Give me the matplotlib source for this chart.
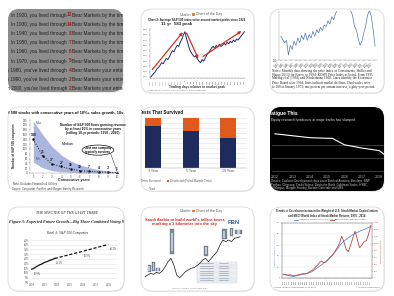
import matplotlib
matplotlib.use("Agg")
import matplotlib.pyplot as plt
from matplotlib.patches import FancyBboxPatch, Rectangle, Ellipse
from matplotlib.transforms import Bbox, TransformedBbox

plt.rcParams['font.family'] = ['Liberation Sans', 'DejaVu Sans']
SERIF = ['Liberation Serif', 'DejaVu Serif']

# ---- panel 1: bear markets text card
years1 = [1920, 1930, 1940, 1950, 1960, 1970, 1980, 1990, 2000]
bear_counts = [12, 14, 8, 7, 6, 5, 4, 2, 2]

# ---- panel 2: S&P 500 around market peak
days2 = list(range(-2750, 4751, 125))
index2 = [1.00, 1.03, 1.07, 1.10, 1.15, 1.18, 1.22, 1.27, 1.25, 1.30, 1.35, 1.33,
          1.38, 1.45, 1.50, 1.48, 1.55, 1.60, 1.58, 1.66, 1.72, 1.80, 1.86,
          1.72, 1.62, 1.52, 1.46, 1.42, 1.38, 1.40, 1.34, 1.30,
          1.27, 1.33, 1.30, 1.36, 1.42, 1.46, 1.50, 1.55, 1.58, 1.54, 1.60, 1.57,
          1.62, 1.58, 1.60, 1.64, 1.61, 1.66, 1.63, 1.68, 1.65, 1.70, 1.67, 1.72,
          1.70, 1.74, 1.78, 1.82, 1.86]
arrows2 = [((-2750, 1.10), (-40, 1.89)), ((40, 1.88), (1150, 1.30)), ((1250, 1.36), (4700, 1.90))]

# ---- panel 3: price index line
index3 = [129, 125, 121, 124, 106, 118, 113, 123, 118, 127, 121, 130, 125, 133, 124, 131,
          127, 135, 129, 137, 133, 140, 136, 143, 141, 148, 144, 153, 149, 157, 161, 166,
          163, 169, 165, 167, 163, 160, 155, 142, 137, 127, 118, 123, 133, 142, 155, 161,
          153, 136, 117]
labels3 = ['1994', '1995', '1996', '1997', '1998', '1999', '2000', '2001', '2002', '2003',
           '2004', '2005', '2006', '2007', '2008', '2009', '2010', '2011', '2012', '2013']

# ---- panel 4: consecutive years of 10%+ growth
years4 = [1, 2, 3, 4, 5, 6, 7, 8, 9, 10]
median4 = [140, 71, 37, 27, 16, 10, 7, 4, 3, 1]
max4 = [215, 160, 110, 75, 50, 34, 22, 14, 9, 5]
min4 = [45, 22, 10, 5, 3, 1, 0, 0, 0, 0]

# ---- panel 5: tests that survived
cats5 = ['3 Year', '5 Year', '10 Year']
survived5 = [84, 75, 61]
deselected5 = [16, 25, 39]

# ---- panel 6: research headcount
years6 = [2012.0, 2013.0, 2014.0, 2015.0, 2015.3, 2016.0, 2017.0, 2018.0, 2018.3]
heads6 = [5900, 5750, 5600, 5550, 5550, 5050, 4800, 4600, 4300]

# ---- panel 7: Big Three voting stake
years7_act = [2008, 2009, 2010, 2011, 2012, 2013, 2014, 2015, 2016, 2017]
stake7_act = [13.9, 15.2, 17.0, 18.4, 19.6, 21.1, 22.0, 23.3, 24.2, 25.4]
years7_proj = [2017, 2028, 2038]
stake7_proj = [25.4, 33.0, 40.3]
years7_lab = [2008, 2017, 2028, 2038]
lab7 = ['13.9%', '21.1%', '33.0%', '40.3%']

# ---- panel 8: tallest buildings vs market
index8 = [55, 60, 65, 62, 68, 65, 72, 85, 100, 110, 90, 60, 52, 60, 70, 75, 80, 82,
          88, 95, 105, 110, 100, 110, 120, 130, 150, 165, 160, 165, 160, 170, 172, 175]
bld_x = [1.5, 3.0, 4.5, 9.5, 21.0, 27.5, 30.0, 32.5]
bld_base = [68, 72, 72, 122, 118, 168, 178, 182]
bld_h = [22, 28, 10, 75, 30, 30, 22, 14]
bld_w = [1.2, 1.0, 1.6, 1.4, 1.4, 1.6, 1.2, 2.4]

# ---- panel 9: weight vs MSCI
years9 = list(range(1975, 2015))
weight9 = [3.5, 3.0, 2.5, 2.0, 1.5, 1.5, 2.0, 2.5, 3.0, 3.5, 4.0, 4.5, 5.0, 6.0, 7.5, 9.0,
           10.5, 12.0, 13.5, 15.0, 17.0, 19.0, 21.0, 23.5, 26.0, 29.0, 31.5, 33.5, 35.0,
           36.5, 38.0, 39.5, 40.5, 41.5, 42.5, 43.5, 44.0, 45.0, 46.0, 47.0]
msci9 = [96, 96, 80, 96, 80, 64, 80, 96, 112, 128, 112, 144, 192, 224, 288, 352, 432,
         496, 448, 464, 528, 608, 672, 768, 880, 992, 1216, 1056, 832, 768, 960, 1168,
         1360, 1120, 880, 960, 1056, 1088, 1280, 1536]

W, H = 394, 296
fig = plt.figure(figsize=(W / 100, H / 100), dpi=100)
bg = fig.add_axes([0, 0, 1, 1])
bg.set_xlim(0, W)
bg.set_ylim(H, 0)
bg.axis('off')


def frame(x, y, w, h, face='white', edge='#d9d9d9'):
    sh = FancyBboxPatch((x + 0.8, y + 1.0), w, h, boxstyle='round,pad=0,rounding_size=11',
                        fc='#000000', ec='none', alpha=0.08, zorder=0)
    bg.add_patch(sh)
    p = FancyBboxPatch((x, y), w, h, boxstyle='round,pad=0,rounding_size=11',
                       fc=face, ec=edge, lw=0.6, zorder=1)
    bg.add_patch(p)
    box = TransformedBbox(Bbox.from_bounds(x / W, 1 - (y + h) / H, w / W, h / H), fig.transFigure)
    return p, box


def sub(x, y, w, h):
    ax = fig.add_axes([x / W, 1 - (y + h) / H, w / W, h / H])
    ax.patch.set_alpha(0)
    return ax


def txt(x, y, s, clip=None, **kw):
    kw.setdefault('va', 'center')
    t = bg.text(x, y, s, zorder=3, **kw)
    if clip is not None:
        t.set_clip_on(True)
        t.set_clip_box(clip)
    return t


def small_ticks(ax, size=2.2, color='#444444'):
    ax.tick_params(labelsize=size, length=1, width=0.3, pad=0.6, colors=color)
    for s in ax.spines.values():
        s.set_linewidth(0.3)
        s.set_color('#999999')


# ================= panel 1
p1, b1 = frame(8, 9, 115, 83, face='#8d8d8d', edge='none')
for i, (yr, n) in enumerate(zip(years1, bear_counts)):
    yy = 15 + i * 9.2
    verb = "you lived" if yr < 1980 else "you've lived"
    tail = "Bear Markets by the time you turned 65" if yr < 1980 else "Bear Markets your entire life"
    txt(67, yy, f"In {yr}, {verb} through", clip=b1, ha='right', fontsize=3.4, color='#202020')
    txt(69.8, yy, str(n), clip=b1, ha='center', fontsize=3.4, color='#a3171b', weight='bold')
    txt(72.5, yy, tail, clip=b1, ha='left', fontsize=3.4, color='#202020')

# ================= panel 2
p2, b2 = frame(141, 9, 113, 84)
txt(191, 14.5, "Ubalan", ha='right', fontsize=2.6, color='#555555')
bg.add_patch(Rectangle((192.5, 13.2), 2.6, 2.6, fc='#e8842a', ec='none', zorder=3))
txt(196.5, 14.5, "Chart of the Day", ha='left', fontsize=2.6, color='#555555')
txt(197, 19.5, "Chart 3: Average S&P 500 index value around market peaks since 1926",
    ha='center', fontsize=2.1, weight='bold', color='#222222')
txt(166, 24.5, "11 yr", ha='center', fontsize=3.2, weight='bold', color='#222222')
txt(183, 24.5, "583 peak", ha='center', fontsize=3.2, weight='bold', color='#222222')
ax2 = sub(150, 28, 95, 50)
ax2.plot(days2, index2, color='#1f2a6b', lw=0.7)
for (a, b) in arrows2:
    ax2.annotate('', xy=b, xytext=a,
                 arrowprops=dict(arrowstyle='-|>', color='#d9301f', lw=0.9, mutation_scale=4))
ax2.set_xlim(-2800, 4800)
ax2.set_ylim(0.98, 1.93)
ax2.set_yticks([1.0, 1.1, 1.2, 1.3, 1.4, 1.5, 1.6, 1.7, 1.8, 1.9])
ax2.set_yticklabels(['1.00', '1.10', '1.20', '1.30', '1.40', '1.50', '1.60', '1.70', '1.80', '1.90'])
ax2.set_xticks(days2[::2])
ax2.set_xticklabels([str(d) for d in days2[::2]], rotation=90)
small_ticks(ax2, 1.7)
ax2.tick_params(axis='x', labelsize=1.4)
ax2.spines['top'].set_visible(False)
ax2.spines['right'].set_visible(False)
txt(197, 87.3, "Trading days relative to market peak", ha='center', fontsize=2.3, weight='bold', color='#333333')
txt(147, 90.3, "* Indexed to 1 at start. Source: Ubalan, Chart of the Day", ha='left', fontsize=1.7, color='#666666')

# ================= panel 3
p3, b3 = frame(270, 9, 114, 84)
ax3 = sub(279, 11, 98, 49)
ax3.plot(range(len(index3)), index3, color='#5577b0', lw=0.5)
ax3.set_ylim(100, 160)
ax3.set_xlim(-1, len(index3))
ax3.set_yticks([100])
ax3.set_xticks([i * 2.6 for i in range(len(labels3))])
ax3.set_xticklabels(labels3, rotation=45, ha='right')
small_ticks(ax3, 1.8)
ax3.spines['top'].set_visible(False)
ax3.spines['right'].set_visible(False)
cap3 = ["Notes: Monthly data showing the price index of Constituents, Shiller and",
        "Wang (2013) for Korea, to 1994; KOSPI Price Index as listed. From 1995",
        "Malong et al (1994) and Wiedermann 1988. Lines identify the Economist",
        "Price Board after 1994; lines indicate market declines. Dual scales refer",
        "to 100 at January 1973; one percent per annum increase, eighty-year period."]
for i, line in enumerate(cap3):
    txt(272.5, 70.5 + i * 4.0, line, clip=b3, ha='left', fontsize=2.45, family=SERIF, color='#222222')

# ================= panel 4
p4, b4 = frame(8, 107, 116, 84)
txt(123, 113, "Share of 500 stocks with consecutive years of 10%+ sales growth, 10s",
    clip=b4, ha='right', fontsize=2.8, weight='bold', color='#111111')
ax4 = sub(30, 120, 88, 53)
ax4.fill_between(years4, min4, max4, color='#aab5e0', lw=0)
ax4.plot(years4, median4, color='#111111', lw=0.7, ls=':', marker='o', ms=0.8)
for xv, yv in zip(years4, median4):
    ax4.text(xv, yv + 8, str(yv), ha='center', va='bottom', fontsize=2.4, weight='bold', color='#111111')
ax4.text(1.25, 203, "Max", fontsize=2.3, color='#3c4c9c')
ax4.text(1.25, 52, "Min", fontsize=2.3, color='#3c4c9c')
ax4.text(4.1, 118, "Median", fontsize=2.6, color='#111111')
ax4.text(7.4, 183, "Number of S&P 500 firms growing revenue\nby at least 10% in consecutive years\n(rolling 10-yr periods: 1950 - 2010)",
         ha='center', va='center', fontsize=2.3, weight='bold', linespacing=1.1, color='#111111')
ax4.add_patch(Ellipse((7.93, 95), 3.4, 42, fc='white', ec='#111111', lw=0.5))
ax4.text(7.93, 95, "Just one company\ntypically survives", ha='center', va='center', fontsize=2.2,
         weight='bold', linespacing=1.1)
ax4.plot([9.3, 10.0], [80, 4], color='#111111', lw=0.3)
ax4.set_xlim(0.65, 10.08)
ax4.set_ylim(0, 220)
ax4.set_yticks(range(0, 221, 20))
ax4.set_xticks(years4)
small_ticks(ax4, 2.0)
ax4.spines['top'].set_visible(False)
ax4.spines['right'].set_visible(False)
txt(14, 146, "Number of S&P 500 companies", rotation=90, ha='center', fontsize=2.2, weight='bold', color='#222222')
txt(74, 180, "Consecutive years", ha='center', fontsize=2.6, weight='bold', color='#222222')
txt(13, 184.3, "Note: Excludes Financials & Utilities", clip=b4, ha='left', fontsize=2.0, color='#333333')
txt(12, 188.8, "Source: Compustat, FactSet, and Morgan Stanley Research",
    clip=b4, ha='left', fontsize=1.9, style='italic', color='#333333')

# ================= panel 5
p5, b5 = frame(141, 107, 113, 84)
txt(139.5, 113, "Tests That Survived", clip=b5, ha='left', fontsize=3.3, weight='bold', color='#111111')
ax5 = sub(145, 118, 102, 50)
ax5.bar(range(3), survived5, width=0.42, color='#1d2c5c')
ax5.bar(range(3), deselected5, bottom=survived5, width=0.42, color='#e05a1c')
ax5.set_xlim(-0.22, 2.5)
ax5.set_ylim(0, 100)
ax5.set_yticks(range(0, 101, 10))
ax5.set_yticklabels([])
ax5.yaxis.grid(True, color='#dddddd', lw=0.4)
ax5.set_axisbelow(True)
ax5.set_xticks(range(3))
ax5.set_xticklabels(cats5)
small_ticks(ax5, 2.6, '#555555')
ax5.tick_params(length=0)
for k in ['top', 'right', 'left']:
    ax5.spines[k].set_visible(False)
bg.add_patch(Rectangle((137.5, 180), 2.4, 2.4, fc='#1d2c5c', ec='none', zorder=3, clip_path=p5))
txt(140.6, 181.2, "Tests Survived", clip=b5, ha='left', fontsize=2.2, color='#555555')
bg.add_patch(Rectangle((167, 180), 2.4, 2.4, fc='#e05a1c', ec='none', zorder=3))
txt(170.3, 181.2, "Deselected (Failed Multiple Tests)", ha='left', fontsize=2.0, color='#555555')
txt(149, 189, "Year", ha='left', fontsize=2.4, color='#555555')

# ================= panel 6
p6, b6 = frame(270, 107, 114, 84, face='#000000', edge='none')
txt(268.5, 114, "Fatigue This", clip=b6, ha='left', fontsize=3.6, weight='bold', color='white')
txt(271.5, 119.5, "Equity research headcount at major banks has slumped", clip=b6, ha='left',
    fontsize=2.4, color='#e6e6e6')
ax6 = sub(272, 126, 115, 46)
ln6, = ax6.plot(years6, heads6, color='white', lw=0.8)
ln6.set_clip_path(p6)
ax6.set_xlim(2011.83, 2018.45)
ax6.set_ylim(2950, 6500)
ax6.set_yticks([3000, 4000, 5000])
ax6.set_yticklabels([])
ax6.yaxis.grid(True, color='#555555', lw=0.5)
ax6.set_xticks([2012, 2013, 2014, 2015, 2016, 2017, 2018])
ax6.tick_params(axis='x', labelsize=2.6, colors='#bbbbbb', length=0, pad=2.0)
ax6.tick_params(axis='y', length=0)
for s in ax6.spines.values():
    s.set_visible(False)
for lab in ax6.get_xticklabels():
    lab.set_clip_on(True)
    lab.set_clip_box(b6)
for gl in ax6.get_ygridlines():
    gl.set_clip_path(p6)
src6 = ["Source: Coalition Development; data cover Bank of America, Barclays, BNP",
        "Paribas, Citigroup, Credit Suisse, Deutsche Bank, Goldman Sachs, HSBC,",
        "JPMorgan, Morgan Stanley, Societe Generale and UBS"]
for i, line in enumerate(src6):
    txt(271.5, 181 + i * 3.6, line, clip=b6, ha='left', fontsize=2.1, color='#d0d0d0')

# ================= panel 7
p7, b7 = frame(8, 207, 116, 84)
txt(67, 213, "THE SPECTER OF THE GIANT THREE", ha='center', fontsize=2.7, style='italic',
    family=SERIF, color='#222222')
txt(9, 222.5, "Figure 3: Expected Future Growth\u2014Big Three Combined Voting Stake",
    clip=b7, ha='left', fontsize=3.0, style='italic', weight='bold', family=SERIF, color='#222222')
txt(67, 233, "Panel A: S&P 500 Companies", ha='center', fontsize=2.4, style='italic',
    family=SERIF, color='#222222')
ax7 = sub(30, 240, 87, 42.3)
ax7.plot(years7_act, stake7_act, color='#111111', lw=0.9)
ax7.plot(years7_proj, stake7_proj, color='#111111', lw=0.9, ls=(0, (2.5, 1.5)))
allx = years7_act + years7_proj[1:]
ally = stake7_act + stake7_proj[1:]
for xv, s in zip(years7_lab, lab7):
    yv = ally[allx.index(xv)]
    ax7.text(xv + 0.6, yv - 2.5, s, fontsize=2.0, family=SERIF, color='#333333', va='top')
ax7.set_xlim(2007.3, 2041.4)
ax7.set_ylim(0, 45)
ax7.set_yticks(range(0, 46, 5))
ax7.set_yticklabels([f"{v}%" for v in range(0, 46, 5)])
ax7.set_xticks([2008, 2013, 2018, 2023, 2028, 2033, 2038])
ax7.yaxis.grid(True, color='#e3e3e3', lw=0.4)
small_ticks(ax7, 2.1, '#444444')
ax7.tick_params(length=0)
for lab in ax7.get_xticklabels() + ax7.get_yticklabels():
    lab.set_family(SERIF)
for k in ['top', 'right', 'left', 'bottom']:
    ax7.spines[k].set_visible(False)

# ================= panel 8
p8, b8 = frame(141, 207, 113, 84)
txt(191, 210.8, "Ubalan", ha='right', fontsize=2.6, color='#555555')
bg.add_patch(Rectangle((192.5, 209.5), 2.6, 2.6, fc='#e8842a', ec='none', zorder=3))
txt(196.5, 210.8, "Chart of the Day", ha='left', fontsize=2.6, color='#555555')
txt(185, 219.5, "Saudi Arabia to build world's tallest tower,", ha='center', fontsize=2.9,
    weight='bold', color='#d7261e')
txt(185, 224.5, "marking a 1 kilometer into the sky", ha='center', fontsize=2.9,
    weight='bold', color='#d7261e')
txt(234, 223, "FBN", ha='center', fontsize=4.2, weight='bold', color='#2d5d9f')
ax8 = sub(143, 228, 100, 56)
ax8.plot(range(len(index8)), index8, color='#111111', lw=0.5)
for bx, bb, bh, bw in zip(bld_x, bld_base, bld_h, bld_w):
    ax8.add_patch(Rectangle((bx - bw / 2, bb), bw, bh, fc='#7f8a98', ec='#4d5663', lw=0.2))
    ax8.add_patch(Rectangle((bx - bw / 4, bb + bh * 0.15), bw / 2, bh * 0.7, fc='#b9cbe0', ec='none'))
ax8.set_xlim(-0.7, 34)
ax8.set_ylim(33, 201)
ax8.set_xticks([])
ax8.set_yticks([])
for s in ax8.spines.values():
    s.set_visible(False)
bg.add_patch(Rectangle((197, 262), 40, 21, fc='#eef1f5', ec='#c6cbd2', lw=0.3, zorder=3))
for i in range(8):
    bg.plot([197.5, 236.5], [264.5 + i * 2.4, 264.5 + i * 2.4], color='#c9ced6', lw=0.25, zorder=4)
    bg.plot([200, 213], [263.4 + i * 2.4, 263.4 + i * 2.4], color='#8c95a3', lw=0.4, zorder=4)
    bg.plot([219, 228], [263.4 + i * 2.4, 263.4 + i * 2.4], color='#8c95a3', lw=0.4, zorder=4)
txt(190, 288.5, "Source: Ubalan, Chart of the Day", ha='center', fontsize=1.7, color='#777777')

# ================= panel 9
p9, b9 = frame(270, 207, 114, 84)
txt(327, 211.3, "Trends in Correlation between the Weight of U.S. Stock Market Capitalization",
    ha='center', fontsize=2.0, weight='bold', color='#222222')
txt(327, 215.3, "and MSCI World Index of Stock Market Returns, 1975 - 2014",
    ha='center', fontsize=2.0, weight='bold', color='#222222')
bg.plot([294, 298], [219.5, 219.5], color='#5b8bd0', lw=0.6, zorder=3)
txt(299, 219.5, "Aggregate Weight of U.S. Stocks (left)", ha='left', fontsize=1.6, color='#555555')
bg.plot([330, 334], [219.5, 219.5], color='#b5473f', lw=0.6, zorder=3)
txt(335, 219.5, "MSCI World Index Level (right)", ha='left', fontsize=1.6, color='#555555')
ax9 = sub(282, 223, 90, 55)
ax9.plot(years9, weight9, color='#5b8bd0', lw=0.6)
ax9.set_ylim(0, 50)
ax9.set_xlim(1974.5, 2014.5)
ax9.set_xticks(years9)
ax9.set_xticklabels([str(y) for y in years9], rotation=90)
ax9.yaxis.grid(True, color='#e4e4e4', lw=0.3)
small_ticks(ax9, 1.6, '#555555')
ax9.tick_params(axis='x', labelsize=1.4)
ax9.set_ylabel("Aggregate Weight of U.S. Stocks", fontsize=1.6, color='#5b8bd0', labelpad=1)
ax9b = ax9.twinx()
ax9b.plot(years9, msci9, color='#b5473f', lw=0.6)
ax9b.set_ylim(0, 1600)
small_ticks(ax9b, 1.6, '#b5473f')
ax9b.set_ylabel("MSCI World Index Level", fontsize=1.6, color='#b5473f', labelpad=1)
txt(274, 287.5, "Source: Global Financial Data, 1975-2014", ha='left', fontsize=1.6, color='#555555')
txt(380, 287.5, "\u00a9 Global Financial Data", ha='right', fontsize=1.6, color='#555555')

fig.savefig("out.png", dpi=100, facecolor='white')
